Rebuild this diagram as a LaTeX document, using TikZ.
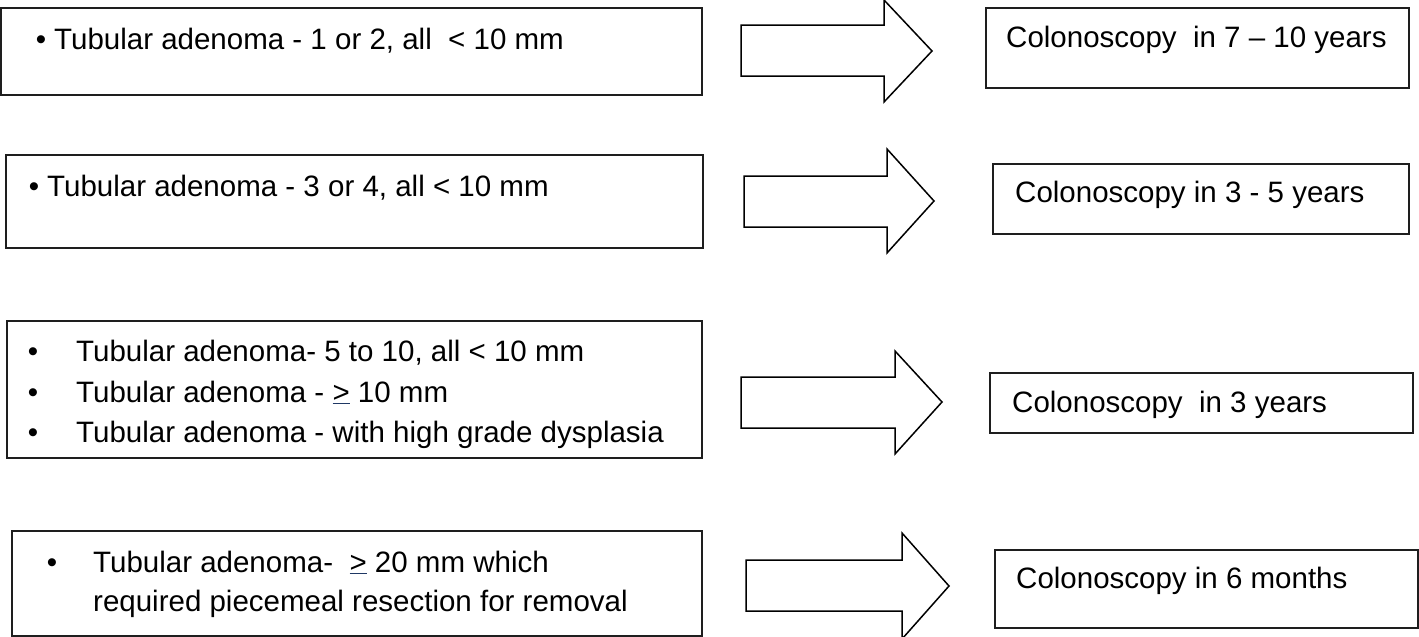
\documentclass[tikz,border=0pt]{standalone}
\usepackage{fontspec}
\setmainfont{Liberation Sans}
\definecolor{boxline}{RGB}{30,30,30}
\definecolor{ulnavy}{RGB}{31,56,100}
\newcommand{\geqmark}{{\color{ulnavy}\underline{\color{black}>}}}
\begin{document}
\begin{tikzpicture}[x=1pt,y=-1pt,
  boxnode/.style={draw=boxline,line width=2pt,rectangle,inner sep=0pt},
  blockarrow/.style={draw=black,line width=1.5pt,fill=white,line join=miter},
  txt/.style={anchor=base west,inner sep=0pt,font=\fontsize{29.5}{35}\selectfont},
  bul/.style={anchor=base,inner sep=0pt,font=\fontsize{29.5}{35}\selectfont}]
\useasboundingbox (0,0) rectangle (1419,637);
\clip (0,0) rectangle (1419,637);
% left boxes
\node[boxnode,minimum width=701pt,minimum height=87pt] (l1) at (351.5,51.5) {};
\node[boxnode,minimum width=697pt,minimum height=93pt] (l2) at (354.5,201.5) {};
\node[boxnode,minimum width=695pt,minimum height=137pt] (l3) at (354.5,389.5) {};
\node[boxnode,minimum width=690pt,minimum height=105pt] (l4) at (357,583.5) {};
% right boxes
\node[boxnode,minimum width=423pt,minimum height=80pt] (r1box) at (1197.5,48) {};
\node[boxnode,minimum width=416pt,minimum height=70pt] (r2box) at (1201,199) {};
\node[boxnode,minimum width=423pt,minimum height=60pt] (r3box) at (1201.5,403) {};
\node[boxnode,minimum width=423pt,minimum height=78pt] (r4box) at (1206.5,589) {};
% arrows
\draw[blockarrow] (741,25) -- (884,25) -- (884,0) -- (932,51) -- (884,102) -- (884,76) -- (741,76) -- cycle;
\draw[blockarrow] (744,176) -- (887,176) -- (887,149) -- (934,201) -- (887,253) -- (887,227) -- (744,227) -- cycle;
\draw[blockarrow] (741,377) -- (895,377) -- (895,351) -- (942,402) -- (895,454) -- (895,428) -- (741,428) -- cycle;
\draw[blockarrow] (746,560) -- (902,560) -- (902,533) -- (949,586) -- (902,639) -- (902,611) -- (746,611) -- cycle;
% left texts
\node[bul] (b1) at (41,49) {•};
\node[txt] (t1) at (54,49) {Tubular adenoma - 1 or 2, all\ \ < 10 mm};
\node[bul] (b2) at (34,196) {•};
\node[txt] (t2) at (47,196) {Tubular adenoma - 3 or 4, all < 10 mm};
\node[bul] (b31) at (33,361) {•};
\node[txt] (t31) at (76,361) {Tubular adenoma- 5 to 10, all < 10 mm};
\node[bul] (b32) at (33,402) {•};
\node[txt] (t32) at (76,402) {Tubular adenoma - \geqmark{} 10 mm};
\node[bul] (b33) at (33,442) {•};
\node[txt] (t33) at (76,442) {Tubular adenoma - with high grade dysplasia};
\node[bul] (b4) at (52,572) {•};
\node[txt] (t41) at (93,572) {Tubular adenoma-\ \ \geqmark{} 20 mm which};
\node[txt] (t42) at (93,611) {required piecemeal resection for removal};
% right texts
\node[txt] (r1) at (1006,47) {Colonoscopy\ \ in 7 – 10 years};
\node[txt] (r2) at (1015,202) {Colonoscopy in 3 - 5 years};
\node[txt] (r3) at (1012,412) {Colonoscopy\ \ in 3 years};
\node[txt] (r4) at (1016,588) {Colonoscopy in 6 months};
\end{tikzpicture}
\end{document}
